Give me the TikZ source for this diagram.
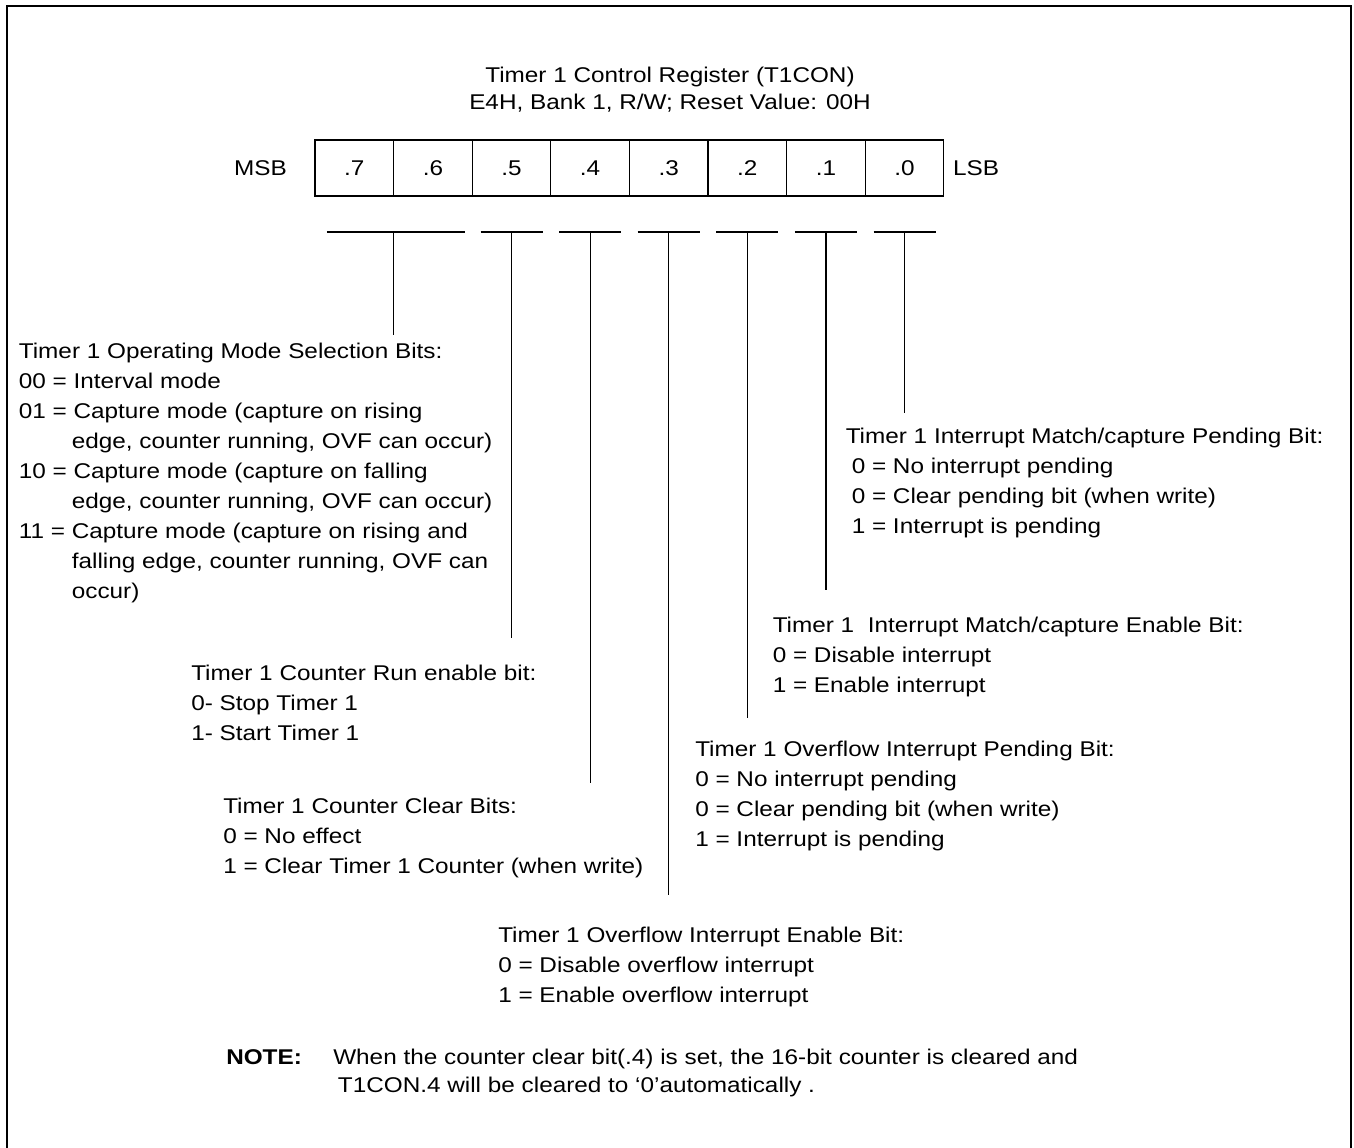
\documentclass[tikz,border=0pt]{standalone}
\usepackage{fontspec}
\setmainfont{Liberation Sans}[FakeStretch=1.14]
\usetikzlibrary{positioning,calc}

\newcommand{\regfont}{\fontsize{16}{22.5}\selectfont}
\newcommand{\contline}{\hspace*{39.75pt}}

\begin{document}
\begin{tikzpicture}[
  x=0.75pt, y=-0.75pt,
  bitcell/.style={draw,line width=0.9pt,minimum width=58.95pt,minimum height=42pt,
    inner sep=0pt,outer sep=0pt,font=\regfont},
  fieldtext/.style={anchor=base west,align=left,inner sep=0pt,font=\regfont},
  bar/.style={line width=1.2pt},
  lead/.style={line width=0.9pt},
]
  \useasboundingbox (0,0) rectangle (1354,1148);
  % outer frame, open at the bottom
  \draw[line width=1.5pt] (7.3,1152) -- (7.3,5.7) -- (1351,5.7) -- (1351,1152);

  % multi-line texts sit on the baseline of their last line
  \node[anchor=base,align=center,inner sep=0pt,font=\fontsize{16}{20.25}\selectfont] (title) at (670,110)
    {Timer 1 Control Register (T1CON)\\E4H, Bank 1, R/W; Reset Value: 00H};

  % register bits
  \node[bitcell] (b7) at (354.3,168) {.7};
  \node[bitcell,right=0pt of b7] (b6) {.6};
  \node[bitcell,right=0pt of b6] (b5) {.5};
  \node[bitcell,right=0pt of b5] (b4) {.4};
  \node[bitcell,right=0pt of b4] (b3) {.3};
  \node[bitcell,right=0pt of b3] (b2) {.2};
  \node[bitcell,right=0pt of b2] (b1) {.1};
  \node[bitcell,right=0pt of b1] (b0) {.0};
  \node[inner sep=0pt,font=\regfont,left=21pt of b7] (msb) {MSB};
  \node[inner sep=0pt,font=\regfont,right=6.75pt of b0] (lsb) {LSB};

  % field bars
  \coordinate (t76) at ($(b7.east)+(0,64)$);
  \coordinate (t5) at (b5 |- t76);
  \coordinate (t4) at (b4 |- t76);
  \coordinate (t3) at (b3 |- t76);
  \coordinate (t2) at (b2 |- t76);
  \coordinate (t1) at (b1 |- t76);
  \coordinate (t0) at (b0 |- t76);
  \draw[bar] ([xshift=-50pt]t76) -- ([xshift=53.25pt]t76);
  \draw[bar] ([xshift=-23.25pt]t5) -- ([xshift=23.25pt]t5);
  \draw[bar] ([xshift=-23.25pt]t4) -- ([xshift=23.25pt]t4);
  \draw[bar] ([xshift=-23.25pt]t3) -- ([xshift=23.25pt]t3);
  \draw[bar] ([xshift=-23.25pt]t2) -- ([xshift=23.25pt]t2);
  \draw[bar] ([xshift=-23.25pt]t1) -- ([xshift=23.25pt]t1);
  \draw[bar] ([xshift=-23.25pt]t0) -- ([xshift=23.25pt]t0);

  % field descriptions
  \node[fieldtext] (modesel) at (18.6,598) {Timer 1 Operating Mode Selection Bits:\\
    00 = Interval mode\\
    01 = Capture mode (capture on rising\\
    \contline edge, counter running, OVF can occur)\\
    10 = Capture mode (capture on falling\\
    \contline edge, counter running, OVF can occur)\\
    11 = Capture mode (capture on rising and\\
    \contline falling edge, counter running, OVF can\\
    \contline occur)};
  \node[fieldtext] (runbit) at (191,740) {Timer 1 Counter Run enable bit:\\
    0- Stop Timer 1\\
    1- Start Timer 1};
  \node[fieldtext] (clrbit) at (223,873) {Timer 1 Counter Clear Bits:\\
    0 = No effect\\
    1 = Clear Timer 1 Counter (when write)};
  \node[fieldtext] (ovfen) at (498,1002) {Timer 1 Overflow Interrupt Enable Bit:\\
    0 = Disable overflow interrupt\\
    1 = Enable overflow interrupt};
  \node[fieldtext] (ovfpnd) at (695,846) {Timer 1 Overflow Interrupt Pending Bit:\\
    0 = No interrupt pending\\
    0 = Clear pending bit (when write)\\
    1 = Interrupt is pending};
  \node[fieldtext] (mcen) at (772.5,692) {Timer 1\ \ Interrupt Match/capture Enable Bit:\\
    0 = Disable interrupt\\
    1 = Enable interrupt};
  \node[fieldtext] (mcpnd) at (845.5,533) {Timer 1 Interrupt Match/capture Pending Bit:\\
    \hspace*{4.5pt}0 = No interrupt pending\\
    \hspace*{4.5pt}0 = Clear pending bit (when write)\\
    \hspace*{4.5pt}1 = Interrupt is pending};

  % leads
  \coordinate (e76) at (t76 |- 0,335);
  \coordinate (e5) at (t5 |- 0,638);
  \coordinate (e4) at (t4 |- 0,783);
  \coordinate (e3) at (t3 |- 0,895);
  \coordinate (e2) at (t2 |- 0,718);
  \coordinate (e1) at (t1 |- 0,590);
  \coordinate (e0) at (t0 |- 0,413);
  \draw[lead] (t76) -- (e76);
  \draw[lead] (t5) -- (e5);
  \draw[lead] (t4) -- (e4);
  \draw[lead] (t3) -- (e3);
  \draw[lead] (t2) -- (e2);
  \draw[lead] (t1) -- (e1);
  \draw[lead] (t0) -- (e0);

  % note
  \node[fieldtext,font=\regfont\bfseries] (notehead) at (226,1064) {NOTE:};
  \node[fieldtext,font=\fontsize{16}{21}\selectfont] (notetext) at (333,1092)
    {When the counter clear bit(.4) is set, the 16-bit counter is cleared and\\
    \hspace*{3.5pt}T1CON.4 will be cleared to ‘0’automatically .};
\end{tikzpicture}
\end{document}
